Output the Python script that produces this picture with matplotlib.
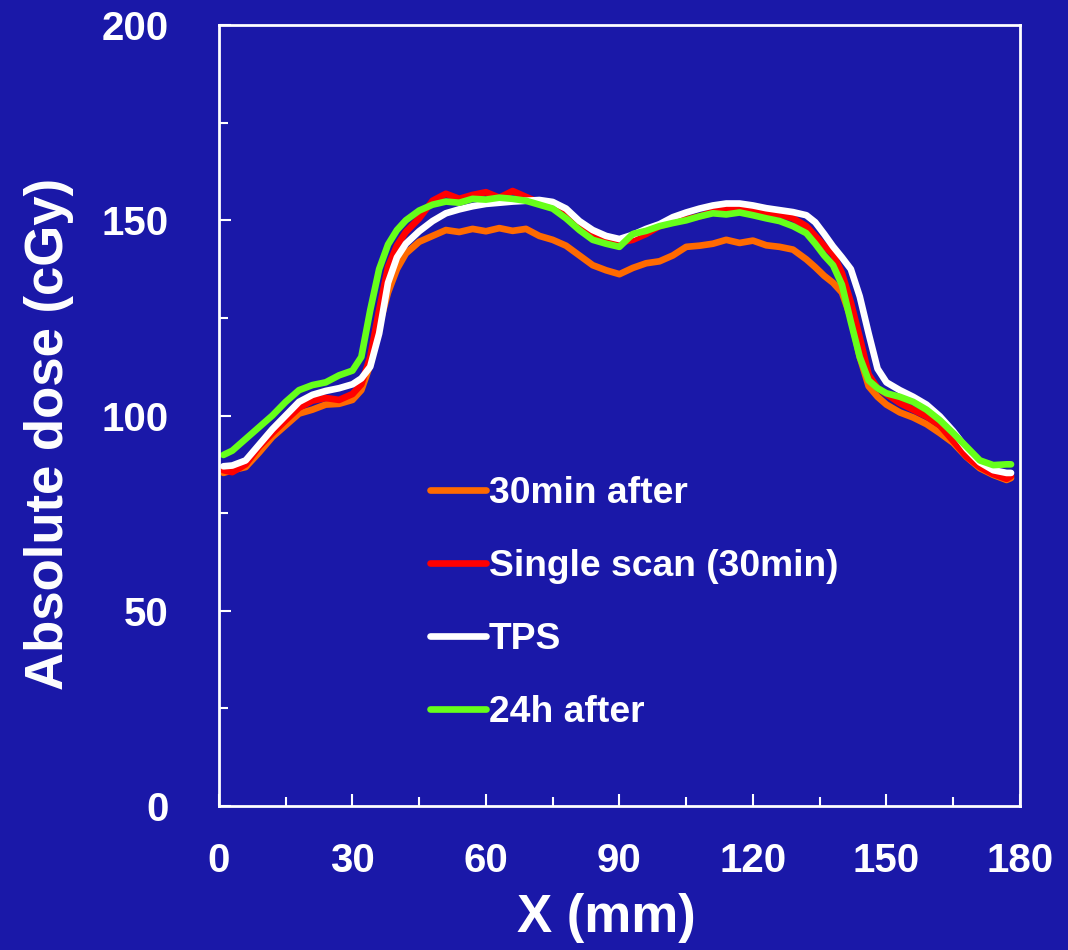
import matplotlib
matplotlib.use("Agg")
import matplotlib.pyplot as plt
from matplotlib.ticker import MultipleLocator

# Position (mm) der profilen avlästs
x_mm = [1, 3, 6, 9, 12, 15, 18, 21, 24, 27, 30, 32, 34, 36, 38, 40, 42, 45, 48, 51,
        54, 57, 60, 63, 66, 69, 72, 75, 78, 81, 84, 87, 90, 93, 96, 99, 102, 105, 108,
        111, 114, 117, 120, 123, 126, 129, 132, 134, 136, 138, 140, 142, 144, 146, 148,
        150, 153, 156, 159, 162, 165, 168, 171, 174, 177, 178]

dose_30min = [85.3, 86, 86.8, 90.5, 94.5, 97.5, 100.5, 101.5, 102.8, 103, 104, 106.5, 113,
              123, 131.5, 137.5, 141.5, 144.5, 146, 147.5, 147, 147.8, 147.2, 148, 147.3,
              147.8, 146, 145, 143.5, 141, 138.5, 137.2, 136.2, 137.8, 139, 139.5, 141,
              143.2, 143.5, 144, 145, 144.2, 144.8, 143.6, 143.2, 142.5, 140, 138, 135.8,
              134, 131.5, 125, 115, 107.5, 104.8, 102.8, 100.8, 99.5, 97.8, 95.5, 93, 89.4,
              86.5, 84.8, 83.5, 84]

dose_single = [86, 85.5, 87.5, 92, 95.5, 98.8, 102, 103.8, 104.5, 104, 105.5, 108, 115,
               127, 138, 143.5, 147, 150.5, 155, 156.8, 155.5, 156.5, 157.2, 155.8, 157.5,
               156, 154.5, 153.2, 151.5, 148.5, 146.5, 145.3, 144.3, 145, 146.5, 148.5,
               149.5, 150.3, 151, 152.2, 152.8, 153.2, 152.5, 151.8, 151.5, 150.5, 148.5,
               146, 143.5, 141.3, 136.5, 129, 120, 110.5, 107, 105.5, 103.2, 101.5, 99.8,
               97.5, 93.5, 89.5, 86.8, 85, 83.8, 84.5]

dose_tps = [87, 87.2, 88.5, 92.5, 96.5, 100, 103.5, 105.3, 106.3, 107, 108, 109.5, 112.5,
            121, 134, 140.5, 144, 147.2, 149.8, 151.8, 152.8, 153.6, 154.2, 154.5, 154.8,
            155, 155.2, 154.7, 153, 149.8, 147.5, 146, 145.2, 146.3, 147.8, 149, 150.8,
            152, 153, 153.8, 154.3, 154.3, 153.8, 153.1, 152.6, 152.1, 151.3, 149.5,
            146.5, 143.3, 140.5, 137.5, 130.5, 121, 112, 108.5, 106.5, 104.8, 102.8, 99.8,
            96, 91.5, 88, 86, 85.3, 85.3]

dose_24h = [89.9, 91, 94, 97, 100, 103.5, 106.5, 107.8, 108.5, 110.3, 111.5, 115, 127,
            137.5, 143.8, 147.5, 150, 152.5, 154, 154.8, 154.5, 155.5, 155.3, 155.8, 155.5,
            155, 154, 153, 150.5, 147.5, 145, 144, 143.2, 146.5, 147.3, 148.5, 149.3, 150,
            151, 151.8, 151.5, 152, 151.3, 150.5, 149.8, 148.5, 146.7, 144, 141, 138.5,
            133.5, 124, 115, 109, 107, 105.7, 104.8, 103.5, 101.5, 98.8, 95.5, 92, 88.5,
            87.3, 87.5, 87.5]

series = [
    ("30min after", dose_30min, "#FF6A00"),
    ("Single scan (30min)", dose_single, "#FF0000"),
    ("TPS", dose_tps, "#FFFFFF"),
    ("24h after", dose_24h, "#66FF1A"),
]

bg = "#1A18A8"
plt.rcParams['font.family'] = ['Liberation Sans', 'DejaVu Sans']
plt.rcParams['font.weight'] = 'bold'

fig = plt.figure(figsize=(10.68, 9.5), dpi=100, facecolor=bg)
ax = fig.add_axes([0.205, 0.1516, 0.75, 0.822])
ax.set_facecolor(bg)

for label, y, col in series:
    ax.plot(x_mm, y, color=col, lw=4.8, label=label, solid_capstyle="round",
            solid_joinstyle="round")

ax.set_xlim(0, 180)
ax.set_ylim(0, 200)
ax.xaxis.set_major_locator(MultipleLocator(30))
ax.xaxis.set_minor_locator(MultipleLocator(15))
ax.yaxis.set_major_locator(MultipleLocator(50))
ax.yaxis.set_minor_locator(MultipleLocator(25))

for s in ax.spines.values():
    s.set_color("white")
    s.set_linewidth(2)

ax.tick_params(which="both", direction="in", colors="white", width=1.5)
ax.tick_params(which="major", length=8.5)
ax.tick_params(which="minor", length=6.5)
ax.tick_params(axis="x", which="major", labelsize=29, pad=26)
ax.tick_params(axis="y", which="major", labelsize=29, pad=36)
for t in ax.get_xticklabels() + ax.get_yticklabels():
    t.set_fontweight("bold")

ax.set_xlabel("X (mm)", fontsize=38, fontweight="bold", color="white")
ax.set_ylabel("Absolute dose (cGy)", fontsize=38, fontweight="bold", color="white")
ax.xaxis.set_label_coords(0.484, -0.112)
ax.yaxis.set_label_coords(-0.181, 0.476)

leg = ax.legend(loc="upper left", bbox_to_anchor=(0.245, 0.441), frameon=False,
                fontsize=26.8, handlelength=1.5, handletextpad=0.08, labelspacing=1.02,
                borderaxespad=0)
for t in leg.get_texts():
    t.set_color("white")
    t.set_fontweight("bold")

fig.savefig("out.png", dpi=100, facecolor=bg)
